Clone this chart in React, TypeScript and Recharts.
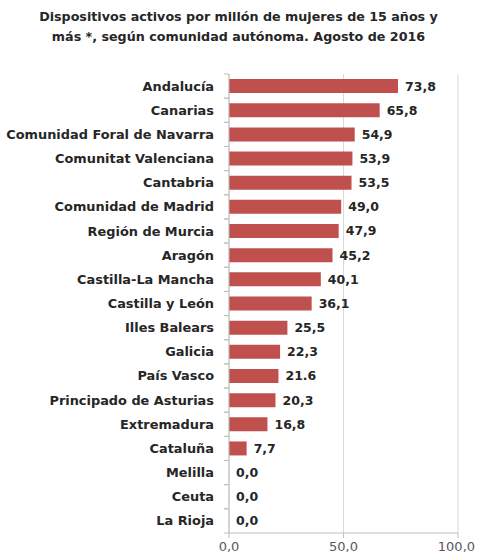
import React from "react";
import { BarChart, Bar, XAxis, YAxis, CartesianGrid, LabelList } from "recharts";

const categories = [
  "Andalucía",
  "Canarias",
  "Comunidad Foral de Navarra",
  "Comunitat Valenciana",
  "Cantabria",
  "Comunidad de Madrid",
  "Región de Murcia",
  "Aragón",
  "Castilla-La Mancha",
  "Castilla y León",
  "Illes Balears",
  "Galicia",
  "País Vasco",
  "Principado de Asturias",
  "Extremadura",
  "Cataluña",
  "Melilla",
  "Ceuta",
  "La Rioja",
];

const values = [73.8, 65.8, 54.9, 53.9, 53.5, 49.0, 47.9, 45.2, 40.1, 36.1, 25.5, 22.3, 21.6, 20.3, 16.8, 7.7, 0, 0, 0];

const valueLabels = ["73,8", "65,8", "54,9", "53,9", "53,5", "49,0", "47,9", "45,2", "40,1", "36,1", "25,5", "22,3", "21.6", "20,3", "16,8", "7,7", "0,0", "0,0", "0,0"];

const xTicks = [0, 50, 100];

const titleLines = [
  "Dispositivos activos por millón de mujeres de 15 años y",
  "más *, según comunidad autónoma. Agosto de 2016",
];

const data = categories.map((name, i) => ({ name, value: values[i], label: valueLabels[i] }));

const FONT = "'DejaVu Sans', sans-serif";

const CategoryTick = (props: any) => {
  const { x, y, payload } = props;
  const half = payload && payload.offset ? payload.offset : 12;
  return (
    <g>
      <line x1={x + 10} x2={x + 15} y1={y - half} y2={y - half} stroke="#bfbfbf" strokeWidth={1} />
      <line x1={x + 10} x2={x + 15} y1={y + half} y2={y + half} stroke="#bfbfbf" strokeWidth={1} />
      <text x={x} y={y} dy="0.35em" textAnchor="end" fontFamily={FONT} fontWeight="bold" fontSize={12.9} fill="#262626">
        {payload.value}
      </text>
    </g>
  );
};

export default function App() {
  return (
    <div style={{ position: "absolute", left: 0, top: 0, width: 477, height: 558, background: "#fff" }}>
      <div
        style={{
          position: "absolute",
          left: 0,
          top: 7,
          width: 477,
          textAlign: "center",
          fontFamily: FONT,
          fontWeight: "bold",
          fontSize: 12.7,
          lineHeight: "20px",
          color: "#262626",
        }}
      >
        {titleLines.map((t, i) => (
          <div key={i}>{t}</div>
        ))}
      </div>
      <div style={{ position: "absolute", left: 0, top: 0 }}>
        <BarChart
          width={477}
          height={558}
          data={data}
          layout="vertical"
          margin={{ top: 74, right: 19, bottom: 0, left: 0 }}
          barCategoryGap="21%"
        >
          <CartesianGrid horizontal={false} vertical={true} stroke="#d9d9d9" />
          <XAxis
            type="number"
            domain={[0, 100]}
            ticks={xTicks}
            height={25}
            tickFormatter={(v: number) => v.toFixed(1).replace(".", ",")}
            tick={{ fontFamily: FONT, fontSize: 13, fill: "#595959" }}
            tickSize={5}
            tickMargin={4}
            stroke="#bfbfbf"
            axisLine={{ stroke: "#bfbfbf" }}
            tickLine={{ stroke: "#bfbfbf" }}
          />
          <YAxis
            type="category"
            dataKey="name"
            width={229}
            tickSize={5}
            tickMargin={10}
            tickLine={false}
            axisLine={{ stroke: "#bfbfbf" }}
            tick={<CategoryTick />}
            interval={0}
          />
          <Bar dataKey="value" fill="#c0504d" minPointSize={0.1} isAnimationActive={false}>
            <LabelList
              dataKey="label"
              position="right"
              offset={7}
              style={{ fontFamily: FONT, fontWeight: "bold", fontSize: 12.5, fill: "#262626" }}
            />
          </Bar>
        </BarChart>
      </div>
    </div>
  );
}
